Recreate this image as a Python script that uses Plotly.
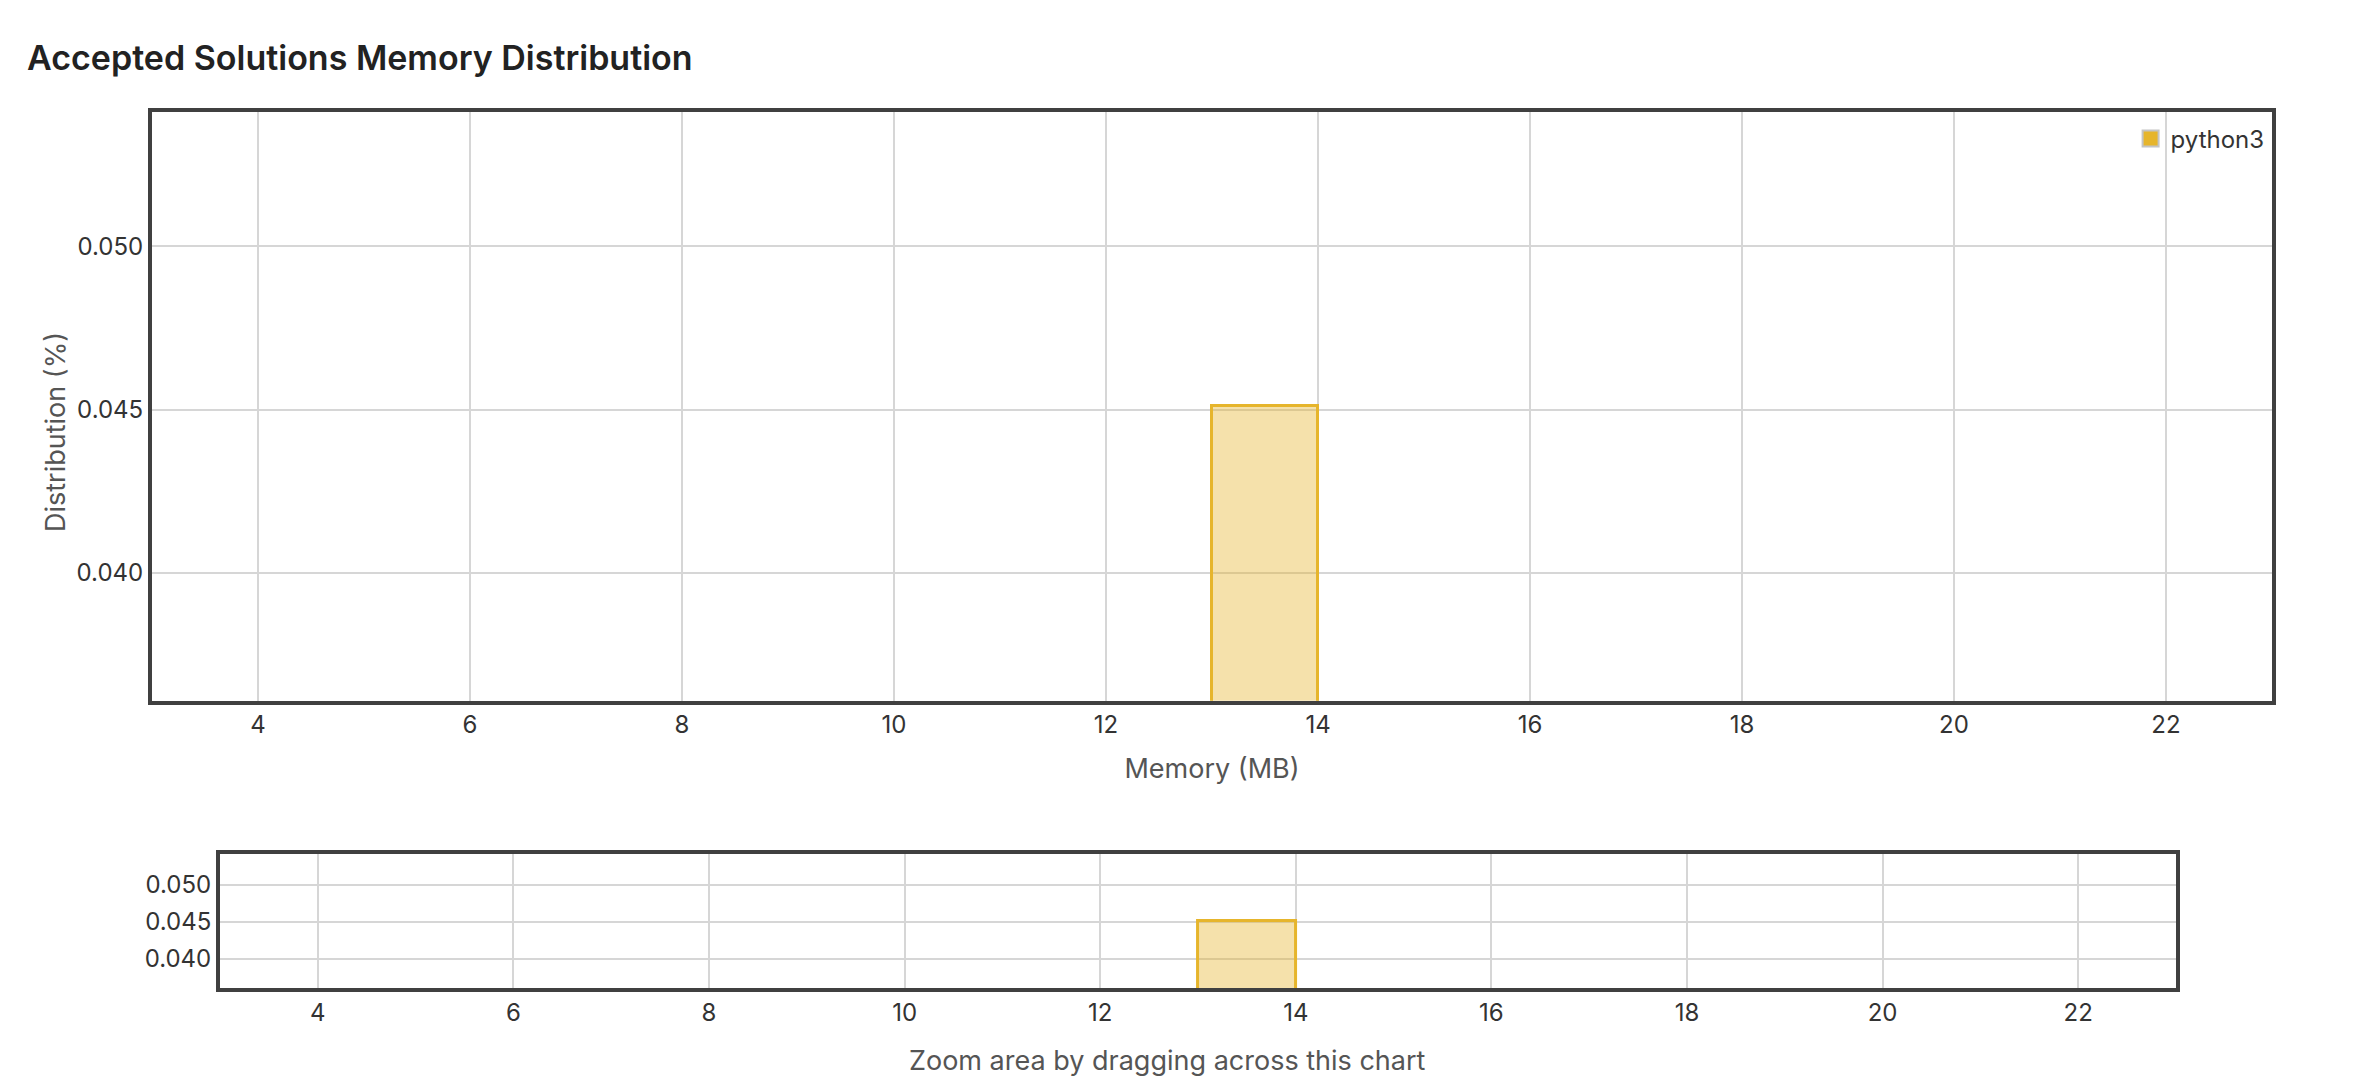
import plotly.graph_objects as go

# ---- data ----
series_name = "python3"
bin_start = [13]          # Memory bin start (MB)
bin_end = [14]            # Memory bin end (MB)
distribution = [0.0451]   # Distribution (%)
x_tick_values = [4, 6, 8, 10, 12, 14, 16, 18, 20, 22]
y_tick_values = [0.040, 0.045, 0.050]
x_range = [3, 23]

bin_center = [(a + b) / 2 for a, b in zip(bin_start, bin_end)]
bin_width = [b - a for a, b in zip(bin_start, bin_end)]
ymax = max(distribution)
y_range = [ymax * 0.8, ymax * 1.2]

GOLD = "#e6b52c"
FILL = "rgba(230,181,44,0.4)"
FRAME = "#404040"
GRID = "#d6d6d6"
FONT = "Inter"

fig = go.Figure()

fig.add_trace(go.Bar(
    x=bin_center, y=distribution, width=bin_width,
    marker=dict(color=FILL, line=dict(color=GOLD, width=3)),
    name=series_name, showlegend=False, xaxis="x", yaxis="y",
))
fig.add_trace(go.Bar(
    x=bin_center, y=distribution, width=bin_width,
    marker=dict(color=FILL, line=dict(color=GOLD, width=3)),
    name=series_name, showlegend=False, xaxis="x2", yaxis="y2",
))
# legend entry (solid swatch with grey outline)
fig.add_trace(go.Scatter(
    x=[None], y=[None], mode="markers", name=series_name,
    marker=dict(symbol="square", size=16, color=GOLD,
                line=dict(color="#c4c4c4", width=2)),
    xaxis="x", yaxis="y", showlegend=True,
))

axis_common = dict(
    showline=True, mirror=True, linecolor=FRAME, linewidth=4,
    showgrid=True, gridcolor=GRID, gridwidth=2, zeroline=False,
    ticks="", tickfont=dict(family=FONT, size=24, color="#333333"),
    fixedrange=True,
)

fig.update_layout(
    width=2370, height=1086,
    margin=dict(l=144, r=106, t=104, b=106),
    paper_bgcolor="white", plot_bgcolor="white",
    font=dict(family=FONT, color="#333333"),
    bargap=0,
    title=dict(
        text="Accepted Solutions Memory Distribution",
        font=dict(family=FONT, size=34, color="#222222", weight=600),
        x=19 / 2370, xref="container", xanchor="left",
        y=1 - 50 / 1086, yref="container", yanchor="middle",
    ),
    xaxis=dict(
        axis_common, domain=[0, 1], range=x_range, anchor="y",
        tickvals=x_tick_values,
        title=dict(text="Memory (MB)", font=dict(family=FONT, size=27, color="#555555"), standoff=22),
    ),
    yaxis=dict(
        axis_common, domain=[0.328, 1], range=y_range, anchor="x",
        tickvals=y_tick_values, tickformat=".3f",
    ),
    xaxis2=dict(
        axis_common, domain=[0.0321, 0.9547], range=x_range, anchor="y2",
        tickvals=x_tick_values,
    ),
    yaxis2=dict(
        axis_common, domain=[0, 0.153], range=y_range, anchor="x2",
        tickvals=y_tick_values, tickformat=".3f",
    ),
    legend=dict(
        x=0.9333, y=0.995, xanchor="left", yanchor="top",
        font=dict(family=FONT, size=24, color="#333333"),
        bgcolor="rgba(0,0,0,0)", borderwidth=0,
        itemwidth=30, tracegroupgap=0,
    ),
    annotations=[
        dict(text="Distribution (%)", textangle=-90,
             xref="paper", yref="paper", x=-0.04575, y=0.6347,
             xanchor="center", yanchor="middle", showarrow=False,
             font=dict(family=FONT, size=27, color="#555555")),
        dict(text="Zoom area by dragging across this chart",
             xref="paper", yref="paper", x=0.479, y=-0.0822,
             xanchor="center", yanchor="middle", showarrow=False,
             font=dict(family=FONT, size=27, color="#555555")),
    ],
)

fig.write_html("out.html")
